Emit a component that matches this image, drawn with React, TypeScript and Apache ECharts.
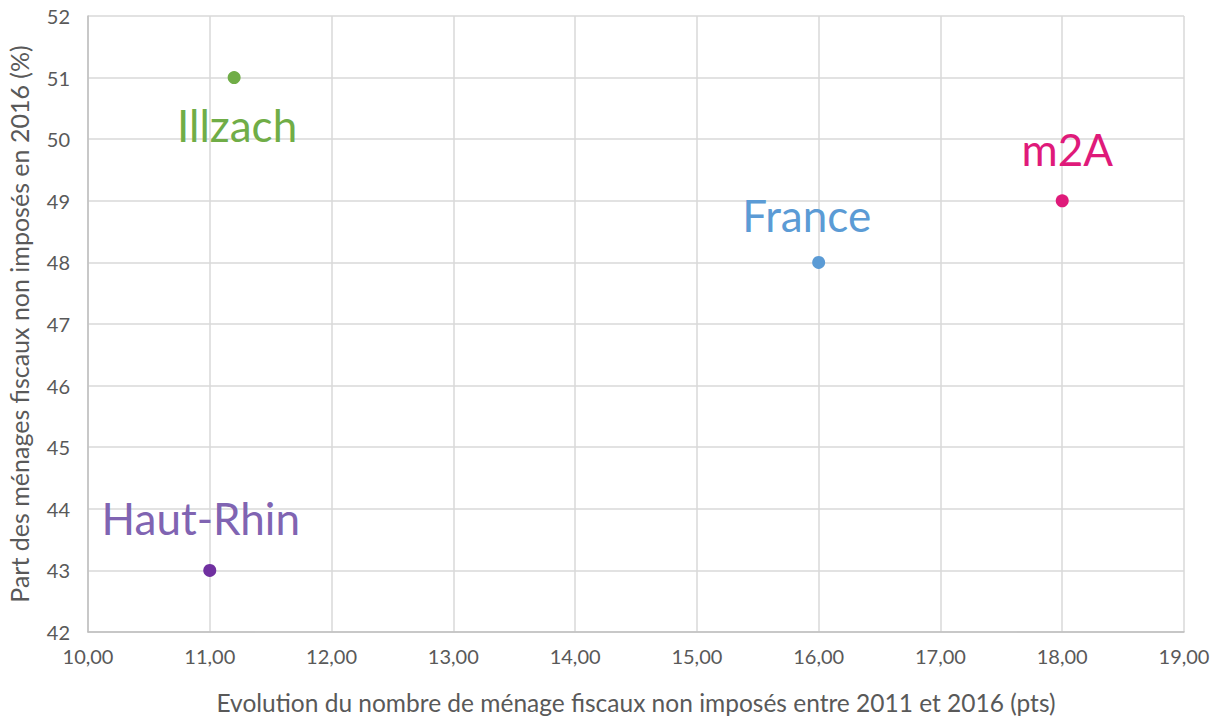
import React, { useEffect, useRef } from "react";
import * as echarts from "echarts";

const names = ["Illzach", "Haut-Rhin", "France", "m2A"];
const xValues = [11.2, 11.0, 16.0, 18.0];
const yValues = [51, 43, 48, 49];

const pointColors = ["#70AD47", "#7030A0", "#5B9BD5", "#DF1A7A"];
const labelColors = ["#70AD47", "#8064B2", "#5B9BD5", "#DF1A7A"];
const labelPos = ["bottom", "top", "top", "top"];
const labelOffset = [[3, 0], [-9, 0], [-12, 0], [5, 0]];
const labelDist = [19, 24, 19, 23];

const xTitle = "Evolution du nombre de ménage fiscaux non imposés entre 2011 et 2016 (pts)";
const yTitle = "Part des ménages fiscaux non imposés en 2016 (%)";

export default function App() {
  const ref = useRef<HTMLDivElement>(null);
  useEffect(() => {
    const chart = echarts.init(ref.current!, null, { renderer: "svg" });
    const font = "Lato, 'Open Sans', sans-serif";
    chart.setOption({
      animation: false,
      textStyle: { fontFamily: font },
      grid: { left: 88, right: 28, top: 16, bottom: 89, outerBoundsMode: "none", containLabel: false },
      xAxis: {
        type: "value",
        min: 10,
        max: 19,
        interval: 1,
        name: xTitle,
        nameLocation: "middle",
        nameGap: 58,
        nameTextStyle: { fontSize: 24.5, color: "#595959", fontFamily: font },
        axisLine: { show: true, lineStyle: { color: "#BFBFBF", width: 1.5 } },
        axisTick: { show: false },
        axisLabel: {
          fontSize: 20,
          color: "#595959",
          margin: 14,
          formatter: (v: number) => v.toFixed(2).replace(".", ","),
        },
        splitLine: { show: true, lineStyle: { color: "#D9D9D9", width: 1.5 } },
      },
      yAxis: {
        type: "value",
        min: 42,
        max: 52,
        interval: 1,
        name: yTitle,
        nameLocation: "middle",
        nameGap: 57,
        nameTextStyle: { fontSize: 25, color: "#595959", fontFamily: font },
        axisLine: { show: true, lineStyle: { color: "#BFBFBF", width: 1.5 } },
        axisTick: { show: false },
        axisLabel: { fontSize: 20, color: "#595959", margin: 18 },
        splitLine: { show: true, lineStyle: { color: "#D9D9D9", width: 1.5 } },
      },
      series: names.map((n, i) => ({
        type: "scatter",
        name: n,
        symbolSize: 13,
        itemStyle: { color: pointColors[i], opacity: 1 },
        label: {
          show: true,
          formatter: n,
          position: labelPos[i],
          distance: labelDist[i],
          offset: labelOffset[i],
          fontSize: 44,
          color: labelColors[i],
          opacity: 1,
          fontFamily: font,
        },
        data: [[xValues[i], yValues[i]]],
      })),
    });
    return () => chart.dispose();
  }, []);
  return (
    <div
      ref={ref}
      style={{ position: "absolute", left: 0, top: 0, width: 1212, height: 721 }}
    />
  );
}
